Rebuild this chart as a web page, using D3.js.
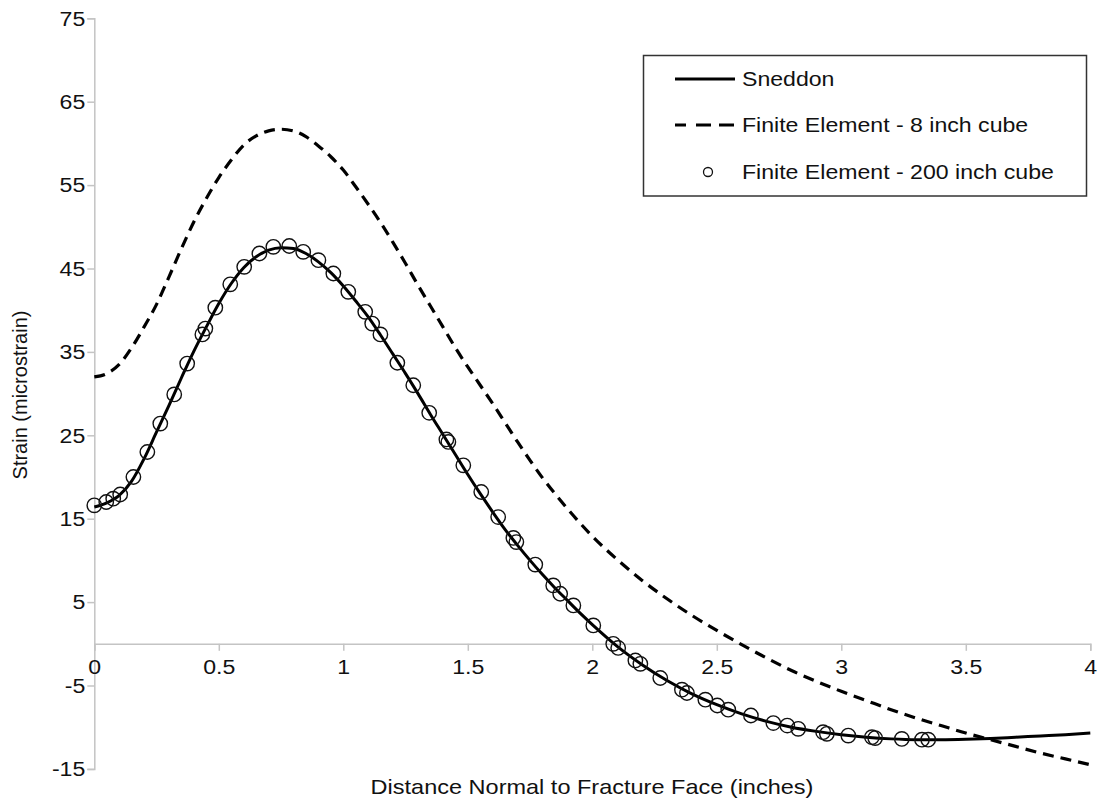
<!DOCTYPE html>
<html><head><meta charset="utf-8">
<script src="https://cdn.jsdelivr.net/npm/d3@7"></script>
<style>
html,body{margin:0;padding:0;background:#fff;}
text{font-family:"Liberation Sans",Arial,sans-serif;fill:#111;}
</style></head>
<body><svg id="c" width="1102" height="804"></svg>
<script>
// ---- data ----
const sneddonX = [0,0.05,0.1,0.15,0.2,0.25,0.3,0.35,0.4,0.45,0.5,0.55,0.6,0.65,0.7,0.75,0.8,0.85,0.9,0.95,1.0,1.05,1.1,1.15,1.2,1.25,1.3,1.35,1.4,1.45,1.5,1.55,1.6,1.65,1.7,1.75,1.8,1.85,1.9,1.95,2.0,2.1,2.2,2.3,2.4,2.5,2.6,2.7,2.8,2.9,3.0,3.1,3.2,3.3,3.4,3.5,3.6,3.7,3.8,3.9,4.0];
const sneddonY = [16.4,16.9,17.8,19.5,22.2,25.4,28.6,31.9,35.1,38.0,40.8,43.2,45.1,46.4,47.2,47.5,47.4,46.8,45.8,44.5,42.9,41.1,39.2,37.0,34.7,32.4,30.0,27.5,25.1,22.7,20.3,18.0,15.8,13.7,11.8,10.0,8.3,6.7,5.2,3.7,2.3,-0.3,-2.5,-4.4,-6.0,-7.3,-8.4,-9.3,-10.0,-10.5,-10.9,-11.2,-11.4,-11.5,-11.5,-11.45,-11.35,-11.2,-11.05,-10.9,-10.7];

const fe8X = [0,0.05,0.1,0.15,0.2,0.25,0.3,0.35,0.4,0.45,0.5,0.55,0.6,0.65,0.7,0.75,0.8,0.85,0.9,0.95,1.0,1.05,1.1,1.15,1.2,1.25,1.3,1.35,1.4,1.45,1.5,1.55,1.6,1.65,1.7,1.75,1.8,1.85,1.9,1.95,2.0,2.1,2.2,2.3,2.4,2.5,2.6,2.7,2.8,2.9,3.0,3.1,3.2,3.3,3.4,3.5,3.6,3.7,3.8,3.9,4.0];
const fe8Y = [32.0,32.4,33.5,35.5,38.0,40.7,44.0,47.4,50.6,53.4,55.9,58.0,59.8,60.9,61.5,61.7,61.5,60.8,59.7,58.4,56.8,54.8,52.7,50.5,48.1,45.6,43.0,40.5,38.0,35.5,33.2,31.0,28.8,26.5,24.2,22.0,19.9,18.0,16.2,14.5,12.9,10.1,7.6,5.4,3.4,1.6,-0.1,-1.7,-3.2,-4.5,-5.7,-6.8,-7.9,-8.9,-9.8,-10.7,-11.5,-12.3,-13.1,-13.8,-14.5];

const fe200X = [0,0.048,0.076,0.104,0.157,0.213,0.265,0.321,0.373,0.434,0.446,0.486,0.546,0.602,0.663,0.719,0.783,0.839,0.900,0.960,1.020,1.088,1.116,1.149,1.217,1.281,1.345,1.414,1.422,1.482,1.554,1.622,1.683,1.695,1.771,1.843,1.871,1.924,2.004,2.084,2.104,2.173,2.193,2.273,2.360,2.380,2.454,2.502,2.546,2.637,2.727,2.783,2.827,2.927,2.942,3.028,3.123,3.136,3.243,3.324,3.349];
const fe200Y = [16.6,17.0,17.4,17.9,20.0,23.0,26.4,29.9,33.6,37.1,37.8,40.3,43.1,45.2,46.8,47.6,47.7,47.0,46.0,44.4,42.2,39.8,38.4,37.1,33.7,31.0,27.7,24.5,24.2,21.4,18.2,15.2,12.7,12.2,9.5,7.0,6.0,4.6,2.2,0.0,-0.5,-2.0,-2.4,-4.1,-5.5,-5.9,-6.7,-7.4,-7.9,-8.6,-9.5,-9.8,-10.2,-10.6,-10.8,-11.0,-11.2,-11.3,-11.4,-11.5,-11.5];

const xTicks = [0,0.5,1,1.5,2,2.5,3,3.5,4];
const yTicks = [-15,-5,5,15,25,35,45,55,65,75];
const seriesNames = ["Sneddon","Finite Element - 8 inch cube","Finite Element - 200 inch cube"];
const xTitle = "Distance Normal to Fracture Face (inches)";
const yTitle = "Strain (microstrain)";

// ---- drawing ----
const SX = 1.1; // horizontal stretch of text in reference
const svg = d3.select("#c");
const x = d3.scaleLinear().domain([0,4]).range([94.3,1090.3]);
const y = d3.scaleLinear().domain([-15,75]).range([768.9,18.3]);
const axisColor = "#c4c4c4";
const fmt = d => String(d);

// y axis
const gy = svg.append("g").attr("transform",`translate(${x(0)},0)`)
  .call(d3.axisLeft(y).tickValues(yTicks).tickSize(7).tickPadding(8).tickFormat(fmt));
gy.select(".domain").attr("stroke",axisColor).attr("stroke-width",1.5);
gy.selectAll(".tick line").attr("stroke",axisColor).attr("stroke-width",1.5);
gy.selectAll(".tick text").attr("font-size",21).attr("fill","#111")
  .attr("font-family","Liberation Sans, Arial, sans-serif")
  .attr("transform",`scale(${SX},1)`).attr("x",-9/SX);

// x axis at y=0
const gx = svg.append("g").attr("transform",`translate(0,${y(0)})`)
  .call(d3.axisBottom(x).tickValues(xTicks).tickSize(7).tickPadding(8).tickFormat(fmt));
gx.select(".domain").attr("stroke",axisColor).attr("stroke-width",1.5);
gx.selectAll(".tick line").attr("stroke",axisColor).attr("stroke-width",1.5);
gx.selectAll(".tick text").attr("font-size",21).attr("fill","#111")
  .attr("font-family","Liberation Sans, Arial, sans-serif")
  .attr("transform",`scale(${SX},1)`);

// lines
const line = d3.line().x(d => x(d[0])).y(d => y(d[1])).curve(d3.curveMonotoneX);
svg.append("path").datum(fe8X.map((v,i)=>[v,fe8Y[i]]))
  .attr("d",line).attr("fill","none").attr("stroke","#000")
  .attr("stroke-width",3.2).attr("stroke-dasharray","11,7");
svg.append("path").datum(sneddonX.map((v,i)=>[v,sneddonY[i]]))
  .attr("d",line).attr("fill","none").attr("stroke","#000").attr("stroke-width",3);
svg.append("g").selectAll("circle").data(fe200X.map((v,i)=>[v,fe200Y[i]])).join("circle")
  .attr("cx",d=>x(d[0])).attr("cy",d=>y(d[1])).attr("r",7.2)
  .attr("fill","none").attr("stroke","#111").attr("stroke-width",1.4);

// titles
svg.append("text").attr("transform",`translate(592,794) scale(1.12,1)`)
  .attr("text-anchor","middle").attr("font-size",21).text(xTitle);
svg.append("text").attr("transform",`translate(27,395) rotate(-90)`)
  .attr("text-anchor","middle").attr("font-size",20).text(yTitle);

// legend
const lg = svg.append("g");
lg.append("rect").attr("x",643.5).attr("y",55.5).attr("width",443).attr("height",140.5)
  .attr("fill","#fff").attr("stroke","#333").attr("stroke-width",1.5);
const rows = [79,125,172];
lg.append("line").attr("x1",675).attr("x2",735).attr("y1",rows[0]).attr("y2",rows[0])
  .attr("stroke","#000").attr("stroke-width",3);
lg.append("line").attr("x1",675).attr("x2",735).attr("y1",rows[1]).attr("y2",rows[1])
  .attr("stroke","#000").attr("stroke-width",3.2).attr("stroke-dasharray","11,10,15,8,15");
lg.append("circle").attr("cx",708).attr("cy",rows[2]).attr("r",4.5)
  .attr("fill","none").attr("stroke","#111").attr("stroke-width",1.3);
seriesNames.forEach((n,i)=>{
  lg.append("text").attr("transform",`translate(742,${rows[i]}) scale(${SX},1)`)
    .attr("dominant-baseline","central").attr("font-size",21).text(n);
});
</script></body></html>
